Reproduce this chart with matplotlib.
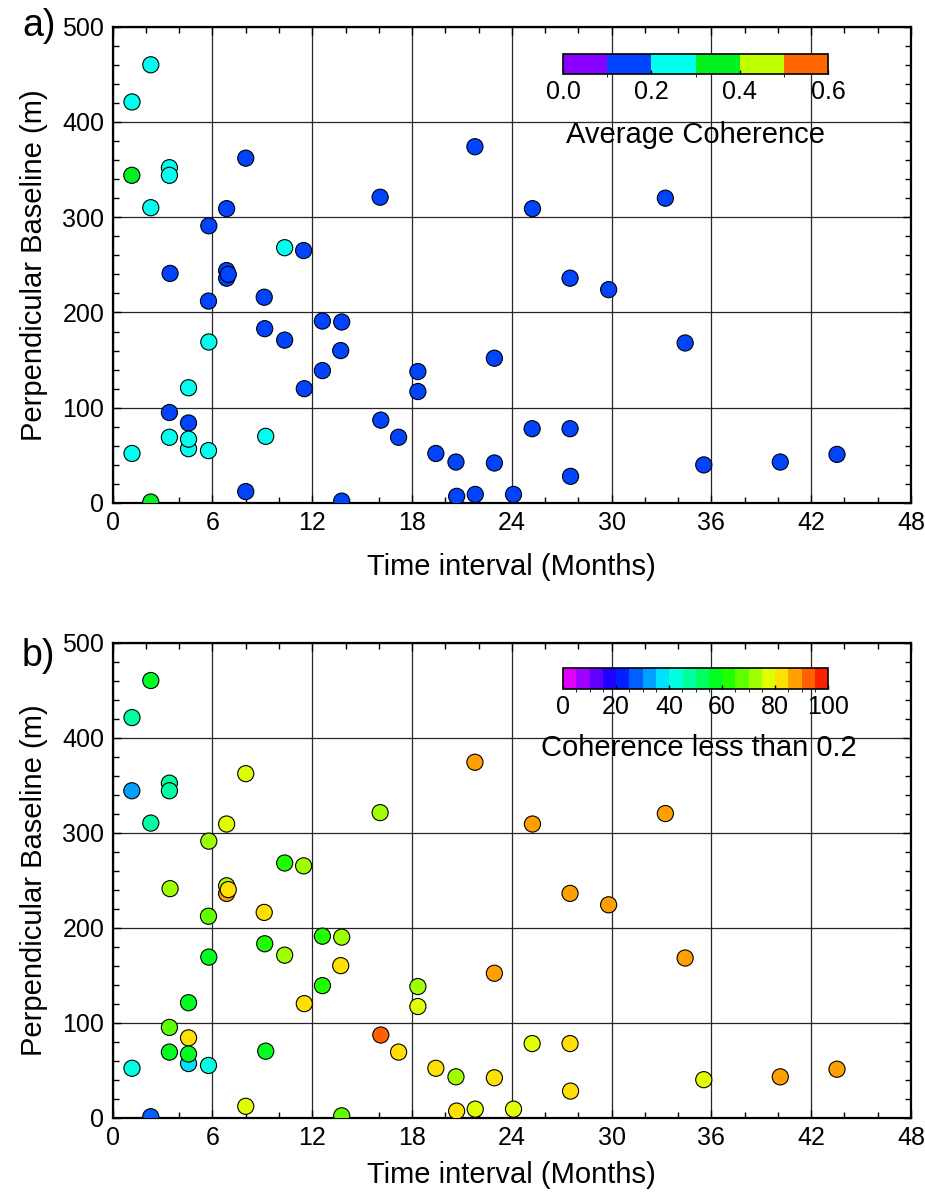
import matplotlib
matplotlib.use('Agg')
import matplotlib.pyplot as plt
from matplotlib.colors import ListedColormap, BoundaryNorm
from matplotlib.ticker import MultipleLocator

plt.rcParams['font.family'] = ['Liberation Sans', 'DejaVu Sans']

W, H = 925, 1193

# Interferogram pairs: time interval (months) and perpendicular baseline (m)
months = [1.16, 2.29, 1.15, 3.41, 3.41, 2.29, 3.45, 8.0, 6.85, 5.78,
          10.34, 11.48, 6.85, 6.85, 6.95, 9.11, 5.76, 9.14, 10.34, 5.78,
          12.61, 13.77, 13.71, 12.61, 11.52, 4.56, 3.41, 4.56, 3.41, 4.56,
          4.56, 5.76, 1.16, 9.2, 8.0, 2.29, 13.77, 16.08, 16.12, 17.19,
          18.35, 18.35, 19.43, 20.64, 20.68, 21.78, 21.8, 22.95, 22.95, 24.1,
          25.24, 25.22, 27.5, 27.5, 27.53, 29.82, 33.23, 34.42, 35.54, 40.14,
          43.55]
baseline = [421, 460, 344, 352, 344, 310, 241, 362, 309, 291,
            268, 265, 244, 236, 240, 216, 212, 183, 171, 169,
            191, 190, 160, 139, 120, 121, 95, 84, 69, 57,
            67, 55, 52, 70, 12, 1, 2, 321, 87, 69,
            138, 117, 52, 43, 7, 374, 9, 152, 42, 9,
            309, 78, 236, 78, 28, 224, 320, 168, 40, 43,
            51]
# a) average coherence of each pair
avg_coh = [0.25, 0.25, 0.35, 0.25, 0.25, 0.25, 0.15, 0.15, 0.15, 0.15,
           0.25, 0.15, 0.15, 0.15, 0.15, 0.15, 0.15, 0.15, 0.15, 0.25,
           0.15, 0.15, 0.15, 0.15, 0.15, 0.25, 0.15, 0.15, 0.25, 0.25,
           0.25, 0.25, 0.25, 0.25, 0.15, 0.35, 0.15, 0.15, 0.15, 0.15,
           0.15, 0.15, 0.15, 0.15, 0.15, 0.15, 0.15, 0.15, 0.15, 0.15,
           0.15, 0.15, 0.15, 0.15, 0.15, 0.15, 0.15, 0.15, 0.15, 0.15,
           0.15]
# b) percentage of pixels with coherence less than 0.2
pct_low = [47, 57, 32, 47, 47, 47, 72, 77, 77, 72,
           62, 72, 72, 87, 82, 82, 67, 62, 72, 57,
           62, 72, 82, 62, 82, 57, 67, 82, 57, 37,
           57, 42, 42, 57, 77, 27, 67, 72, 92, 82,
           72, 77, 82, 72, 82, 87, 77, 87, 82, 77,
           87, 77, 87, 82, 82, 87, 87, 87, 77, 87,
           87]

coh_bounds = [0.0, 0.1, 0.2, 0.3, 0.4, 0.5, 0.6]
coh_colors = ['#8800ff', '#0044ff', '#00ffee', '#00f020', '#c0ff00', '#ff6600']
pct_bounds = list(range(0, 105, 5))
pct_colors = ['#e000ff', '#a000ff', '#6000ff', '#2000ff', '#0020ff',
              '#0060ff', '#00a0ff', '#00e0ff', '#00ffe0', '#00ffa0',
              '#00ff60', '#00ff20', '#20ff00', '#60ff00', '#a0ff00',
              '#e0ff00', '#ffe000', '#ffa000', '#ff6000', '#ff2000']


def px_rect(x0, y0, x1, y1):
    """pixel box (top-left origin) -> figure fraction rect"""
    return [x0 / W, 1 - y1 / H, (x1 - x0) / W, (y1 - y0) / H]


def style_axes(ax, xpad):
    ax.set_xlim(0, 48)
    ax.set_ylim(0, 500)
    ax.xaxis.set_major_locator(MultipleLocator(6))
    ax.xaxis.set_minor_locator(MultipleLocator(2))
    ax.yaxis.set_major_locator(MultipleLocator(100))
    ax.yaxis.set_minor_locator(MultipleLocator(20))
    ax.tick_params(which='both', direction='in', top=True, right=True,
                   labelsize=18, width=1)
    ax.tick_params(which='major', length=6, pad=6)
    ax.tick_params(which='minor', length=4)
    ax.grid(True, which='major', color='0.15', linewidth=0.9)
    ax.set_axisbelow(True)
    for sp in ax.spines.values():
        sp.set_linewidth(1.6)
    ax.set_xlabel('Time interval (Months)', fontsize=21, labelpad=xpad)
    ax.set_ylabel('Perpendicular Baseline (m)', fontsize=21, labelpad=10)


def add_cbar(fig, sc, rect, ticks, fmt, title, title_xy):
    cax = fig.add_axes(px_rect(*rect))
    cb = fig.colorbar(sc, cax=cax, orientation='horizontal', ticks=ticks,
                      format=fmt, drawedges=False)
    cb.outline.set_linewidth(1.2)
    cax.tick_params(direction='in', length=3, width=1, labelsize=18, pad=4)
    fig.text(title_xy[0] / W, 1 - title_xy[1] / H, title, fontsize=21,
             ha='center', va='center')


fig = plt.figure(figsize=(W / 100, H / 100), dpi=100)

# ---- a) average coherence ----
ax1 = fig.add_axes(px_rect(112.7, 26.7, 911, 503))
cmap1 = ListedColormap(coh_colors)
norm1 = BoundaryNorm(coh_bounds, cmap1.N)
sc1 = ax1.scatter(months, baseline, c=avg_coh, cmap=cmap1, norm=norm1,
                  s=135, edgecolors='black', linewidths=0.8, zorder=3)
style_axes(ax1, 13)
add_cbar(fig, sc1, (563, 54, 828, 74), [0.0, 0.2, 0.4, 0.6], '%.1f',
         'Average Coherence', (695, 135))
fig.text(22 / W, 1 - 36 / H, 'a)', fontsize=27, ha='left', va='baseline')

# ---- b) coherence less than 0.2 ----
ax2 = fig.add_axes(px_rect(112.7, 642.5, 911, 1117.7))
cmap2 = ListedColormap(pct_colors)
norm2 = BoundaryNorm(pct_bounds, cmap2.N)
sc2 = ax2.scatter(months, baseline, c=pct_low, cmap=cmap2, norm=norm2,
                  s=135, edgecolors='black', linewidths=0.8, zorder=3)
style_axes(ax2, 8)
add_cbar(fig, sc2, (563, 668, 828, 689), [0, 20, 40, 60, 80, 100], '%d',
         'Coherence less than 0.2', (699, 748))
fig.text(22 / W, 1 - 666 / H, 'b)', fontsize=27, ha='left', va='baseline')

fig.savefig('out.png', dpi=100)
